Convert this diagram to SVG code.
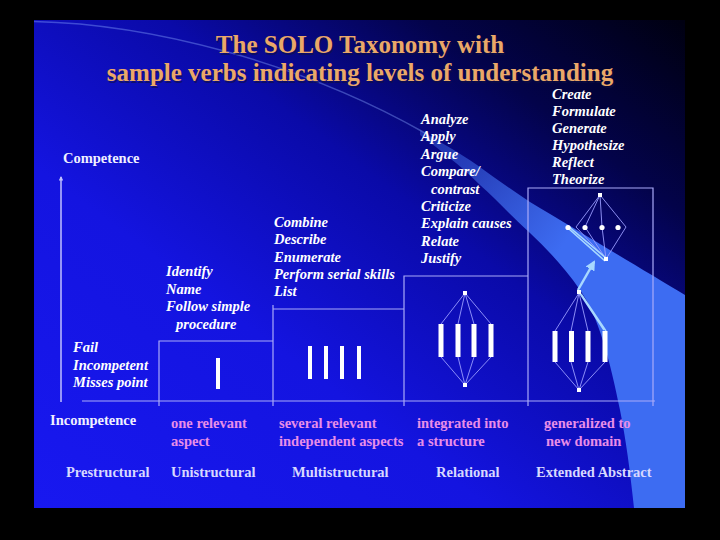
<svg xmlns="http://www.w3.org/2000/svg" width="720" height="540" viewBox="0 0 720 540">
<defs>
<linearGradient id="bg" x1="0" y1="1" x2="1" y2="0">
<stop offset="0" stop-color="#1818f0"/>
<stop offset="0.35" stop-color="#1414e0"/>
<stop offset="0.6" stop-color="#0a0aa8"/>
<stop offset="0.8" stop-color="#03034a"/>
<stop offset="1" stop-color="#000010"/>
</linearGradient>
<linearGradient id="sw" gradientUnits="userSpaceOnUse" x1="360" y1="110" x2="560" y2="250">
<stop offset="0" stop-color="#4a78f5" stop-opacity="0.2"/>
<stop offset="0.55" stop-color="#4474f2" stop-opacity="0.55"/>
<stop offset="1" stop-color="#3d6cf2" stop-opacity="1"/>
</linearGradient>
<marker id="ah" viewBox="0 0 10 10" refX="8" refY="5" markerWidth="4" markerHeight="4" orient="auto">
<path d="M0,0 L10,5 L0,10 Z" fill="#a8d8ff"/>
</marker>
<marker id="ax" viewBox="0 0 10 10" refX="8" refY="5" markerWidth="3" markerHeight="3" orient="auto">
<path d="M0,0 L10,5 L0,10 Z" fill="#c0c0ff"/>
</marker>
<style>
.title{font-family:"Liberation Serif",serif;font-weight:bold;font-size:25px;fill:#eaa868;text-anchor:middle}
.tsh{font-family:"Liberation Serif",serif;font-weight:bold;font-size:25px;fill:#101040;fill-opacity:0.6;text-anchor:middle}
.verb{font-family:"Liberation Serif",serif;font-weight:bold;font-style:italic;font-size:14.5px;fill:#ffffff}
.axis{font-family:"Liberation Serif",serif;font-weight:bold;font-size:14.5px;fill:#f0f0ff}
.desc{font-family:"Liberation Serif",serif;font-weight:bold;font-size:14.5px;fill:#e88ee8}
.lvl{font-family:"Liberation Serif",serif;font-weight:bold;font-size:14.5px;fill:#d8d8ff}
.box{fill:none;stroke:#aaaaf8;stroke-width:1.2}
.bar{fill:#ffffff}
.net{fill:none;stroke:#9a9cff;stroke-width:0.9}
.hl{fill:none;stroke:#a8d8ff;stroke-width:1.6}
.node{fill:#ffffff}
</style>
</defs>
<rect x="0" y="0" width="720" height="540" fill="#000000"/>
<rect x="34" y="20" width="651" height="488" fill="url(#bg)"/>
<g id="swoosh">
<path d="M34,21.5 C150,24 300,62 425,133" fill="none" stroke="#8aa8ff" stroke-opacity="0.4" stroke-width="1.5"/>
<path d="M420,130 C440,142 460,153 477,165 C495,178 512,190 530,202 C580,232 640,268 685,295 L685,508 L634,508 C630,470 626,440 620,410 C610,360 598,315 580,290 C565,268 548,250 530,233 C510,215 495,198 480,185 C460,165 440,150 420,135 Z" fill="url(#sw)"/>
</g>
<g id="title">
<text class="tsh" x="361.5" y="54.5">The SOLO Taxonomy with</text>
<text class="tsh" x="361.5" y="82.5">sample verbs indicating levels of understanding</text>
<text class="title" x="360" y="53">The SOLO Taxonomy with</text>
<text class="title" x="360" y="81">sample verbs indicating levels of understanding</text>
</g>
<g id="connectors">
<line x1="61" y1="402" x2="61" y2="177" stroke="#c0c0ff" stroke-width="1.5" marker-end="url(#ax)"/>
<line x1="82" y1="401" x2="655" y2="401" class="box"/>
<polyline class="box" points="159,406 159,341 273,341"/>
<polyline class="box" points="273,406 273,305"/>
<polyline class="box" points="273,309 404,309"/>
<polyline class="box" points="404,406 404,276 528,276"/>
<polyline class="box" points="528,406 528,188 653,188 653,406"/>
</g>
<g id="axis-labels">
<text class="axis" x="63" y="163">Competence</text>
<text class="axis" x="50" y="425">Incompetence</text>
</g>
<g id="prestructural">
<text class="verb" x="73" y="352">Fail</text>
<text class="verb" x="73" y="369.5">Incompetent</text>
<text class="verb" x="73" y="387">Misses point</text>
<text class="lvl" x="66" y="477">Prestructural</text>
</g>
<g id="unistructural">
<text class="verb" x="166" y="276">Identify</text>
<text class="verb" x="166" y="293.5">Name</text>
<text class="verb" x="166" y="311">Follow simple</text>
<text class="verb" x="176" y="328.5">procedure</text>
<rect class="bar" x="216" y="358" width="4" height="31"/>
<text class="desc" x="171" y="428">one relevant</text>
<text class="desc" x="171" y="446">aspect</text>
<text class="lvl" x="171" y="477">Unistructural</text>
</g>
<g id="multistructural">
<text class="verb" x="274" y="227">Combine</text>
<text class="verb" x="274" y="244.3">Describe</text>
<text class="verb" x="274" y="261.6">Enumerate</text>
<text class="verb" x="274" y="278.9">Perform serial skills</text>
<text class="verb" x="274" y="296.2">List</text>
<rect class="bar" x="308" y="346" width="4" height="33"/>
<rect class="bar" x="324" y="346" width="4" height="33"/>
<rect class="bar" x="340" y="346" width="4" height="33"/>
<rect class="bar" x="357" y="346" width="4" height="33"/>
<text class="desc" x="279" y="428">several relevant</text>
<text class="desc" x="279" y="446">independent aspects</text>
<text class="lvl" x="292" y="477">Multistructural</text>
</g>
<g id="relational">
<text class="verb" x="421" y="124">Analyze</text>
<text class="verb" x="421" y="141.4">Apply</text>
<text class="verb" x="421" y="158.8">Argue</text>
<text class="verb" x="421" y="176.2">Compare/</text>
<text class="verb" x="431" y="193.6">contrast</text>
<text class="verb" x="421" y="211">Criticize</text>
<text class="verb" x="421" y="228.4">Explain causes</text>
<text class="verb" x="421" y="245.8">Relate</text>
<text class="verb" x="421" y="263.2">Justify</text>
<path class="net" d="M465,293 L441,324 M465,293 L458,324 M465,293 L474,324 M465,293 L491,324 M441,357 L465,385 M458,357 L465,385 M474,357 L465,385 M491,357 L465,385"/>
<rect class="bar" x="438.5" y="324" width="5" height="33"/>
<rect class="bar" x="455.5" y="324" width="5" height="33"/>
<rect class="bar" x="471.5" y="324" width="5" height="33"/>
<rect class="bar" x="488.5" y="324" width="5" height="33"/>
<rect class="node" x="463" y="291" width="4" height="4"/>
<rect class="node" x="463" y="383" width="4" height="4"/>
<text class="desc" x="417" y="428">integrated into</text>
<text class="desc" x="417" y="446">a structure</text>
<text class="lvl" x="436" y="477">Relational</text>
</g>
<g id="extended-abstract">
<text class="verb" x="552" y="98.5">Create</text>
<text class="verb" x="552" y="115.6">Formulate</text>
<text class="verb" x="552" y="132.7">Generate</text>
<text class="verb" x="552" y="149.8">Hypothesize</text>
<text class="verb" x="552" y="166.9">Reflect</text>
<text class="verb" x="552" y="184">Theorize</text>
<path class="net" d="M600,195 L576,227 M600,195 L585,227 M600,195 L602,227 M600,195 L626,227 M576,227 L606,259 M585,227 L606,259 M602,227 L606,259 M626,227 L606,259"/>
<path class="hl" d="M568,226 L606,258 M569,229 L605,261"/>
<circle class="node" cx="568" cy="227.5" r="2.6"/>
<circle class="node" cx="585" cy="227.5" r="2.6"/>
<circle class="node" cx="602" cy="227.5" r="2.6"/>
<circle class="node" cx="618" cy="227.5" r="2.6"/>
<rect class="node" x="604" y="257" width="4" height="4"/>
<rect class="node" x="598" y="193" width="4" height="4"/>
<line x1="578" y1="290" x2="594" y2="262" stroke="#a8d8ff" stroke-width="2.5" marker-end="url(#ah)"/>
<path class="net" d="M579,293 L555,331 M579,293 L571,331 M579,293 L588,331 M555,362 L579,390 M571,362 L579,390 M588,362 L579,390 M605,362 L579,390"/>
<path class="hl" d="M579,292 L604,330 M581,294 L606,331"/>
<rect class="bar" x="552.5" y="331" width="5" height="31"/>
<rect class="bar" x="569" y="331" width="5" height="31"/>
<rect class="bar" x="585.5" y="331" width="5" height="31"/>
<rect class="bar" x="602.5" y="331" width="5" height="31"/>
<rect class="node" x="577" y="290" width="4" height="4"/>
<rect class="node" x="577" y="388" width="4" height="4"/>
<text class="desc" x="544" y="428">generalized to</text>
<text class="desc" x="546" y="446">new domain</text>
<text class="lvl" x="536" y="477">Extended Abstract</text>
</g>
</svg>
